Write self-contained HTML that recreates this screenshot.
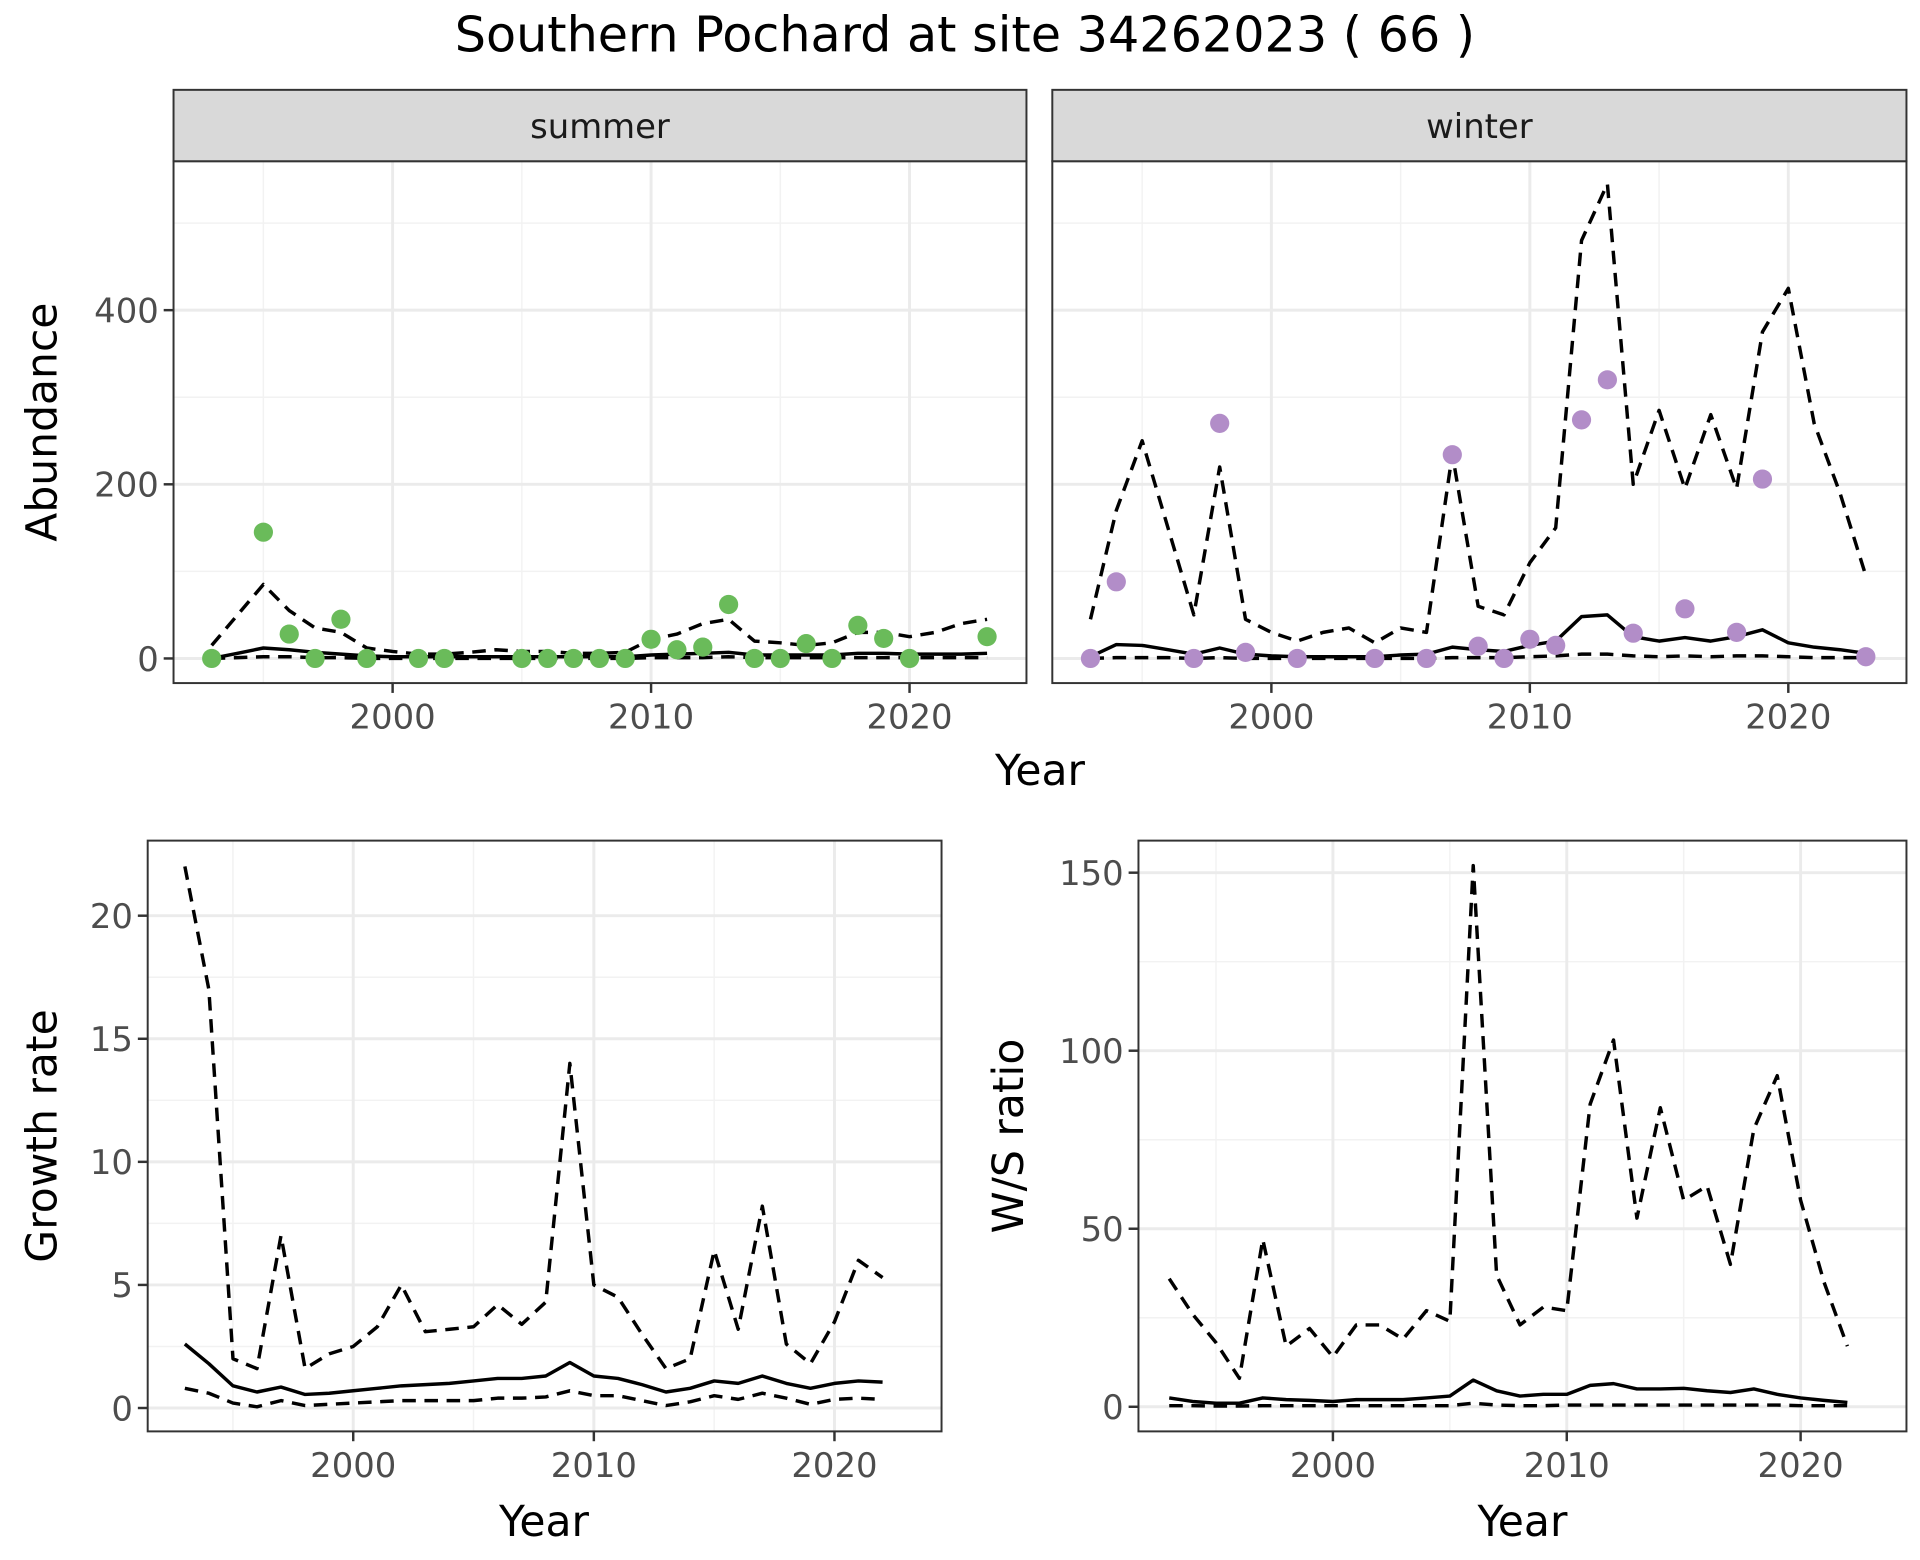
<!DOCTYPE html>
<html><head><meta charset="utf-8"><style>
html,body{margin:0;padding:0;background:#fff}
svg{display:block}
text{font-family:"DejaVu Sans","Liberation Sans",sans-serif}
</style></head><body>
<svg id="chart" width="1920" height="1560" viewBox="0 0 1560 1267.5" xmlns="http://www.w3.org/2000/svg">
<rect width="1560" height="1267.5" fill="#fff"/>
<text x="784" y="42" font-size="40" text-anchor="middle" fill="#000">Southern Pochard at site 34262023 ( 66 )</text>
</svg>
<script>
const yearsAll = [1993,1994,1995,1996,1997,1998,1999,2000,2001,2002,2003,2004,2005,2006,2007,2008,2009,2010,2011,2012,2013,2014,2015,2016,2017,2018,2019,2020,2021,2022,2023];
const summerPtYears = [1993,1995,1996,1997,1998,1999,2001,2002,2005,2006,2007,2008,2009,2010,2011,2012,2013,2014,2015,2016,2017,2018,2019,2020,2023];
const summerPtVals = [0,145,28,0,45,0,0,0,0,0,0,0,0,22,10,13,62,0,0,17,0,38,23,0,25];
const summerMid = [0,6,12,10,7,5,3,2,2,2,2,2,2,2,2,2,2,4,5,6,7,4,4,4,4,6,6,5,5,5,6];
const summerUp = [15,50,85,55,35,30,12,8,5,5,7,10,8,8,6,6,7,22,28,40,45,20,18,15,18,30,30,25,30,40,45];
const summerLo = [0,1,2,2,1,1,0,0,0,0,0,0,0,0,0,0,0,1,1,1,2,1,1,1,1,1,1,1,1,1,1];
const winterPtYears = [1993,1994,1997,1998,1999,2001,2004,2006,2007,2008,2009,2010,2011,2012,2013,2014,2016,2018,2019,2023];
const winterPtVals = [0,88,0,270,7,0,0,0,234,14,0,22,15,274,320,29,57,30,206,2];
const winterMid = [2,16,15,10,5,12,5,3,2,2,2,2,4,5,13,10,8,15,20,48,50,25,20,24,20,25,33,18,13,10,6];
const winterUp = [45,170,250,150,50,220,45,30,20,30,35,18,35,30,235,60,50,110,150,480,545,200,285,195,280,195,375,425,270,190,95];
const winterLo = [0,1,1,1,0,1,0,0,0,0,0,0,0,0,1,1,1,2,3,5,5,3,2,3,2,3,3,2,1,1,1];
const years2 = [1993,1994,1995,1996,1997,1998,1999,2000,2001,2002,2003,2004,2005,2006,2007,2008,2009,2010,2011,2012,2013,2014,2015,2016,2017,2018,2019,2020,2021,2022];
const growthUp = [22,17,2,1.6,7,1.6,2.2,2.5,3.3,5,3.1,3.2,3.3,4.2,3.4,4.3,14,5,4.5,3,1.6,2,6.4,3.2,8.2,2.6,1.8,3.5,6,5.3];
const growthMid = [2.6,1.8,0.9,0.65,0.85,0.55,0.6,0.7,0.8,0.9,0.95,1.0,1.1,1.2,1.2,1.3,1.85,1.3,1.2,0.95,0.65,0.8,1.1,1.0,1.3,1.0,0.8,1.0,1.1,1.05];
const growthLo = [0.8,0.6,0.2,0.05,0.3,0.1,0.15,0.2,0.25,0.3,0.3,0.3,0.3,0.4,0.4,0.45,0.7,0.5,0.5,0.3,0.1,0.25,0.5,0.35,0.6,0.4,0.15,0.35,0.4,0.35];
const ratioUp = [36,26,18,8,47,17,22,14,23,23,19,27,24,152,37,23,28,27,85,103,53,84,58,62,40,78,93,58,35,17];
const ratioMid = [2.5,1.5,1,1,2.5,2,1.8,1.5,2,2,2,2.5,3,7.5,4.5,3,3.5,3.5,6,6.5,5,5,5.2,4.5,4,5,3.5,2.5,1.8,1.2];
const ratioLo = [0.3,0.3,0.2,0.2,0.3,0.3,0.3,0.3,0.3,0.3,0.3,0.3,0.3,1,0.5,0.3,0.3,0.5,0.5,0.5,0.5,0.5,0.5,0.5,0.5,0.5,0.5,0.3,0.3,0.3];
const xTickLabels = ["2000","2010","2020"];
const abundTicks = [0,200,400];
const growthTicks = [0,5,10,15,20];
const ratioTicks = [0,50,100,150];

const svg = document.getElementById('chart');
const NS = 'http://www.w3.org/2000/svg';
function mk(tag, attrs, parent){const e=document.createElementNS(NS,tag);for(const k in attrs)e.setAttribute(k,attrs[k]);(parent||svg).appendChild(e);return e;}

function panel(name, box, xs, ys, opts){
  const g = mk('g',{});
  
  
  const X = v => xs.px0 + (v - xs.v0) * xs.k;
  const Y = v => ys.px0 - (v - ys.v0) * ys.k;
  mk('rect',{x:box.x,y:box.y,width:box.w,height:box.h,fill:'#fff'},g);
  opts.xMinor.forEach(v=>{if(X(v)>box.x&&X(v)<box.x+box.w) mk('line',{x1:X(v),x2:X(v),y1:box.y,y2:box.y+box.h,stroke:'#f2f2f2','stroke-width':1.2},g);});
  opts.yMinor.forEach(v=>{if(Y(v)>box.y&&Y(v)<box.y+box.h) mk('line',{x1:box.x,x2:box.x+box.w,y1:Y(v),y2:Y(v),stroke:'#f2f2f2','stroke-width':1.2},g);});
  xTickLabels.forEach(l=>{const v=+l;mk('line',{x1:X(v),x2:X(v),y1:box.y,y2:box.y+box.h,stroke:'#ebebeb','stroke-width':2.4},g);});
  opts.yTicks.forEach(v=>{mk('line',{x1:box.x,x2:box.x+box.w,y1:Y(v),y2:Y(v),stroke:'#ebebeb','stroke-width':2.4},g);});
  const line=(xv,yv,dash,nm)=>{
    const d = xv.map((x,i)=>(i?'L':'M')+X(x).toFixed(1)+','+Y(yv[i]).toFixed(1)).join('');
    const p = mk('path',{d:d,fill:'none',stroke:'#000','stroke-width':2.8,'stroke-dasharray':dash?'11,7':'none','stroke-linejoin':'round'},g);
    
    
  };
  line(opts.lx, opts.lo, true, 'lower-bound-line');
  line(opts.lx, opts.up, true, 'upper-bound-line');
  line(opts.lx, opts.mid, false, 'estimate-line');
  if(opts.px){
    opts.px.forEach((x,i)=>{
      const c = mk('circle',{cx:X(x),cy:Y(opts.py[i]),r:7.8,fill:opts.color},g);
      
      
    });
  }
  mk('rect',{x:box.x,y:box.y,width:box.w,height:box.h,fill:'none',stroke:'#333','stroke-width':1.6},g);
  xTickLabels.forEach(l=>{const v=+l;
    mk('line',{x1:X(v),x2:X(v),y1:box.y+box.h,y2:box.y+box.h+8,stroke:'#333','stroke-width':2},g);
    const t=mk('text',{x:X(v),y:box.y+box.h+37,'font-size':27.5,'text-anchor':'middle',fill:'#4d4d4d'},g);t.textContent=l;
    
    
  });
  if(opts.showY){
    opts.yTicks.forEach(v=>{
      mk('line',{x1:box.x-8,x2:box.x,y1:Y(v),y2:Y(v),stroke:'#333','stroke-width':2},g);
      const t=mk('text',{x:box.x-12,y:Y(v)+10,'font-size':27.5,'text-anchor':'end',fill:'#4d4d4d'},g);t.textContent=String(v);
      
      
    });
  }
  if(opts.strip){
    mk('rect',{x:box.x,y:box.y-58,width:box.w,height:58,fill:'#d9d9d9',stroke:'#333','stroke-width':1.6},g);
    const t=mk('text',{x:box.x+box.w/2,y:box.y-19,'font-size':27.5,'text-anchor':'middle',fill:'#1a1a1a'},g);t.textContent=opts.strip;
    
    
  }
}
function label(txt,x,y,rot,nm){
  const t=mk('text',{x:x,y:y,'font-size':34.5,'text-anchor':'middle',fill:'#000'});
  if(rot) t.setAttribute('transform','rotate(-90 '+x+' '+y+')');
  t.textContent=txt;
  
  
}
const abundMinor=[100,300,500], yrMinor=[1995,2005,2015];
panel('summer-panel',{x:141,y:131,w:693,h:424},{px0:319,v0:2000,k:21},{px0:535,v0:0,k:0.7075},
  {xMinor:yrMinor,yMinor:abundMinor,yTicks:abundTicks,lx:yearsAll,up:summerUp,mid:summerMid,lo:summerLo,px:summerPtYears,py:summerPtVals,color:'#6abb5a',showY:true,strip:'summer'});
panel('winter-panel',{x:855,y:131,w:694,h:424},{px0:1033,v0:2000,k:21},{px0:535,v0:0,k:0.7075},
  {xMinor:yrMinor,yMinor:abundMinor,yTicks:abundTicks,lx:yearsAll,up:winterUp,mid:winterMid,lo:winterLo,px:winterPtYears,py:winterPtVals,color:'#b28dc8',showY:false,strip:'winter'});
panel('growth-panel',{x:120,y:683,w:645,h:480},{px0:287,v0:2000,k:19.55},{px0:1144,v0:0,k:20},
  {xMinor:yrMinor,yMinor:[2.5,7.5,12.5,17.5],yTicks:growthTicks,lx:years2,up:growthUp,mid:growthMid,lo:growthLo,showY:true});
panel('ratio-panel',{x:925,y:683,w:624,h:480},{px0:1083,v0:2000,k:19},{px0:1143,v0:0,k:2.893},
  {xMinor:yrMinor,yMinor:[25,75,125],yTicks:ratioTicks,lx:years2,up:ratioUp,mid:ratioMid,lo:ratioLo,showY:true});
label('Year',845,638,false,'top-x-axis-title');
label('Abundance',46,343,true,'abundance-y-axis-title');
label('Year',442,1248,false,'growth-x-axis-title');
label('Growth rate',46,923,true,'growth-y-axis-title');
label('Year',1237,1248,false,'ratio-x-axis-title');
label('W/S ratio',831,923,true,'ratio-y-axis-title');
</script>
</body></html>
